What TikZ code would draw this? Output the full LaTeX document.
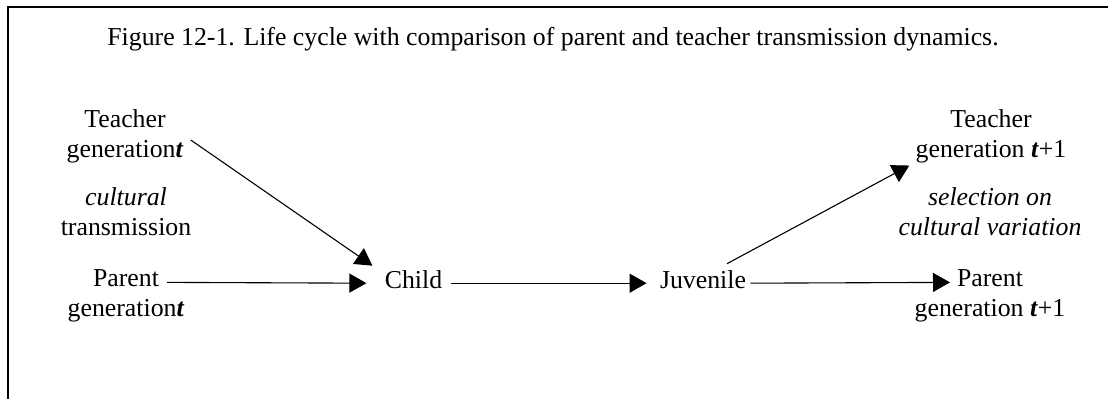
\documentclass[tikz,border=0pt]{standalone}
\usepackage{fontspec}
\setmainfont{Liberation Serif}
\usetikzlibrary{arrows.meta, calc}
\newcommand{\gent}{\textbf{\textit{t}}}

\begin{document}
\begin{tikzpicture}[x=0.5pt, y=-0.5pt,
    lbl/.style={inner sep=0pt, align=center, font=\fontsize{12.9}{15}\selectfont},
    arr/.style={-{Triangle[length=8.5pt, width=9.5pt]}, line width=0.55pt, black}]

    \useasboundingbox (0,0) rectangle (1108,398);

    % Frame
    \draw[line width=1.15pt] (7.8,420) -- (7.8,7) -- (1130,7);

    % Caption
    \node[lbl, anchor=base] (caption) at (553,45) {Figure 12-1. Life cycle with comparison of parent and teacher transmission dynamics.};

    % Generation t
    \node[lbl] (teachT) at (125,136) {Teacher\\generation\gent};
    \node[lbl] (cultT) at (126,212) {\textit{cultural}\\transmission};
    \node[lbl] (parentT) at (126,296) {Parent\\generation\gent};

    % Life stages
    \node[lbl, anchor=base] (child) at (413.5,288) {Child};
    \node[lbl, anchor=base] (juv) at (703,288) {Juvenile};

    % Generation t+1
    \node[lbl] (teachT1) at (991,136) {Teacher\\generation \gent+1};
    \node[lbl] (selT1) at (990,212) {\textit{selection on}\\\textit{cultural variation}};
    \node[lbl] (parentT1) at (990,296) {Parent\\generation \gent+1};

    % Arrows
    \draw[arr] ($(parentT.north)+(41,13)$) -- ($(child.west)+(-18,4)$);
    \draw[arr] ($(teachT.east)+(7,4)$) -- ($(child.north west)+(-12,-4)$);
    \draw[arr] ($(child.east)+(8,4)$) -- ($(juv.west)+(-13,4)$);
    \draw[arr] ($(juv.north)+(24,-6)$) -- ($(teachT1.south west)+(-6,2.4)$);
    \draw[arr] ($(juv.east)+(4,4)$) -- ($(parentT1.north)+(-40,13)$);
\end{tikzpicture}
\end{document}
